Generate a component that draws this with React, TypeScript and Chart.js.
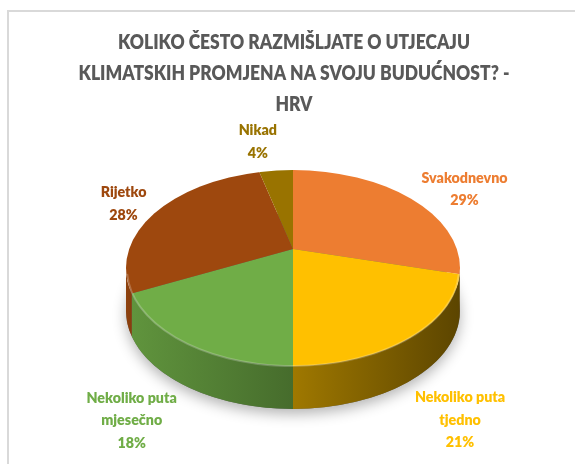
import React, { useEffect, useRef } from 'react';
import { Chart, registerables } from 'chart.js';

Chart.register(...registerables);

const TITLE_LINES = [
  'KOLIKO ČESTO RAZMIŠLJATE O UTJECAJU',
  'KLIMATSKIH PROMJENA NA SVOJU BUDUĆNOST? -',
  'HRV',
];
const CATEGORIES = ['Svakodnevno', 'Nekoliko puta tjedno', 'Nekoliko puta mjesečno', 'Rijetko', 'Nikad'];
const PERCENTS = [29, 21, 18, 28, 4];
const COLORS = ['#ED7D31', '#FFC000', '#70AD47', '#9E480E', '#997300'];

// layout only (label nudges relative to a computed outside anchor)
const LABEL_NUDGE = [
  [0, -1],
  [34, 8],
  [-45, 2],
  [27, -10],
  [-8, 0],
];
const PIE_CX = 293;
const PIE_CY = 268;
const APEX_Y = 249; // perspective: the slices meet above the ellipse centre
const PIE_R = 167;
const TILT = 98 / 167;
const DEPTH = 43;
const TITLE_CX = 294;
const TITLE_Y0 = 42;
const TITLE_LH = 31;
const TITLE_W1 = 352;
const LABEL_CONDENSE = 0.95;
const FONT = 'Lato, "Open Sans", "Liberation Sans", sans-serif';
const WEIGHT = 800;

function shade(hex: string, f: number) {
  const n = parseInt(hex.slice(1), 16);
  const r = Math.min(255, Math.round(((n >> 16) & 255) * f));
  const g = Math.min(255, Math.round(((n >> 8) & 255) * f));
  const b = Math.min(255, Math.round((n & 255) * f));
  return `rgb(${r},${g},${b})`;
}
const lightAt = (a: number) => 0.35 + (a / Math.PI) * 0.55;

// ellipse parameter where a slice edge (pie angle theta, from the apex) meets the rim
function rimAngle(theta: number, R: number, ry: number) {
  const h = PIE_CY - APEX_Y;
  const dx = Math.cos(theta);
  const dy = TILT * Math.sin(theta);
  const a = (dx * dx) / (R * R) + (dy * dy) / (ry * ry);
  const b = (-2 * h * dy) / (ry * ry);
  const c = (h * h) / (ry * ry) - 1;
  const t = (-b + Math.sqrt(b * b - 4 * a * c)) / (2 * a);
  const px = t * dx;
  const py = -h + t * dy;
  let phi = Math.atan2(py / ry, px / R);
  while (phi - theta > Math.PI) phi -= 2 * Math.PI;
  while (theta - phi > Math.PI) phi += 2 * Math.PI;
  return phi;
}

function wrap(ctx: CanvasRenderingContext2D, text: string, maxW: number) {
  const words = text.split(' ');
  const lines: string[] = [];
  let cur = '';
  for (const w of words) {
    const t = cur ? cur + ' ' + w : w;
    if (cur && ctx.measureText(t).width > maxW) {
      lines.push(cur);
      cur = w;
    } else cur = t;
  }
  if (cur) lines.push(cur);
  return lines;
}

const pie3d = {
  id: 'pie3d',
  beforeDatasetsDraw(chart: any) {
    const arcs = chart.getDatasetMeta(0).data;
    if (!arcs.length) return;
    const { x, y, outerRadius: R } = arcs[0].getProps(['x', 'y', 'outerRadius'], true);
    const cx = PIE_CX;
    const cy = PIE_CY;
    const ry = R * TILT;
    const ctx: CanvasRenderingContext2D = chart.ctx;
    // soft shadow
    ctx.save();
    ctx.shadowColor = 'rgba(0,0,0,0.3)';
    ctx.shadowBlur = 14;
    ctx.shadowOffsetY = 5;
    ctx.fillStyle = '#6a6a6a';
    ctx.beginPath();
    ctx.ellipse(cx, cy + DEPTH, R, ry, 0, 0, Math.PI * 2);
    ctx.fill();
    ctx.restore();
    // side walls
    ctx.save();
    arcs.forEach((arc: any, i: number) => {
      const { startAngle, endAngle } = arc.getProps(['startAngle', 'endAngle'], true);
      const p1 = rimAngle(startAngle, R, ry);
      const p2 = rimAngle(endAngle, R, ry);
      const a1 = Math.max(p1, 0);
      const a2 = Math.min(p2, Math.PI);
      if (a2 <= a1) return;
      const xa1 = cx + R * Math.cos(a1);
      const xa2 = cx + R * Math.cos(a2);
      const g = ctx.createLinearGradient(xa2, 0, xa1 + 0.01, 0);
      g.addColorStop(0, shade(COLORS[i], lightAt(a2)));
      g.addColorStop(1, shade(COLORS[i], lightAt(a1)));
      ctx.fillStyle = g;
      ctx.beginPath();
      ctx.ellipse(cx, cy, R, ry, 0, a1, a2);
      ctx.ellipse(cx, cy + DEPTH, R, ry, 0, a2, a1, true);
      ctx.closePath();
      ctx.fill();
    });
    ctx.restore();
    // top face: wedges from the apex, clipped to the rim ellipse
    ctx.save();
    ctx.beginPath();
    ctx.ellipse(cx, cy, R, ry, 0, 0, Math.PI * 2);
    ctx.clip();
    ctx.translate(cx, APEX_Y);
    ctx.scale(1.35, 1.35 * TILT);
    ctx.translate(-x, -y);
  },
  afterDatasetsDraw(chart: any) {
    const ctx: CanvasRenderingContext2D = chart.ctx;
    ctx.restore();
    const arcs = chart.getDatasetMeta(0).data;
    if (!arcs.length) return;
    const { outerRadius: R } = arcs[0].getProps(['outerRadius'], true);
    ctx.save();
    ctx.strokeStyle = 'rgba(255,255,255,0.22)';
    ctx.lineWidth = 2;
    ctx.beginPath();
    ctx.ellipse(PIE_CX, PIE_CY + 1, R - 1, R * TILT - 1, 0, 0.05, Math.PI - 0.05);
    ctx.stroke();
    ctx.restore();
  },
  afterDraw(chart: any) {
    const ctx: CanvasRenderingContext2D = chart.ctx;
    // title
    ctx.save();
    ctx.font = `${WEIGHT} 21px ${FONT}`;
    ctx.fillStyle = '#595959';
    ctx.textAlign = 'center';
    ctx.textBaseline = 'middle';
    const k = TITLE_W1 / ctx.measureText(TITLE_LINES[0]).width;
    TITLE_LINES.forEach((t, i) => {
      ctx.save();
      ctx.translate(TITLE_CX, TITLE_Y0 + i * TITLE_LH);
      ctx.scale(k, 1);
      ctx.fillText(t, 0, 0);
      ctx.restore();
    });
    ctx.restore();
    // data labels
    const arcs = chart.getDatasetMeta(0).data;
    ctx.save();
    ctx.font = `${WEIGHT} 15px ${FONT}`;
    ctx.textAlign = 'center';
    ctx.textBaseline = 'middle';
    arcs.forEach((arc: any, i: number) => {
      const { startAngle, endAngle, outerRadius: R } = arc.getProps(['startAngle', 'endAngle', 'outerRadius'], true);
      const mid = (startAngle + endAngle) / 2;
      const ry = R * TILT;
      const s = Math.sin(mid);
      const lx = PIE_CX + 1.3 * R * Math.cos(mid) + LABEL_NUDGE[i][0];
      const ly = PIE_CY + 1.3 * ry * s + (s > 0 ? DEPTH : 0) + LABEL_NUDGE[i][1];
      const lines = wrap(ctx, CATEGORIES[i], 100).concat(PERCENTS[i] + '%');
      const lh = 22.5;
      const y0 = ly - ((lines.length - 1) * lh) / 2;
      ctx.fillStyle = COLORS[i];
      lines.forEach((t, j) => {
        ctx.save();
        ctx.translate(lx, y0 + j * lh);
        ctx.scale(LABEL_CONDENSE, 1);
        ctx.fillText(t, 0, 0);
        ctx.restore();
      });
    });
    ctx.restore();
  },
};

export default function App() {
  const ref = useRef<HTMLCanvasElement>(null);
  useEffect(() => {
    if (!ref.current) return;
    const chart = new Chart(ref.current, {
      type: 'pie',
      data: {
        labels: CATEGORIES,
        datasets: [
          {
            data: PERCENTS,
            backgroundColor: COLORS,
            borderWidth: 0,
            clip: false,
          } as any,
        ],
      },
      options: {
        responsive: false,
        animation: false,
        events: [],
        radius: PIE_R,
        layout: { padding: { left: 0, right: 0, top: 119, bottom: 0 } },
        plugins: {
          legend: { display: false },
          tooltip: { enabled: false },
          title: { display: false },
        },
      } as any,
      plugins: [pie3d],
    });
    return () => chart.destroy();
  }, []);
  return (
    <div style={{ position: 'fixed', left: 0, top: 0, width: 575, height: 464, background: '#fff', overflow: 'hidden' }}>
      <div
        style={{
          position: 'absolute',
          left: 7,
          top: 10,
          width: 600,
          height: 500,
          borderLeft: '2px solid #d9d9d9',
          borderTop: '2px solid #d9d9d9',
        }}
      />
      <canvas ref={ref} width={575} height={464} style={{ position: 'absolute', left: 0, top: 0, display: 'block' }} />
    </div>
  );
}
